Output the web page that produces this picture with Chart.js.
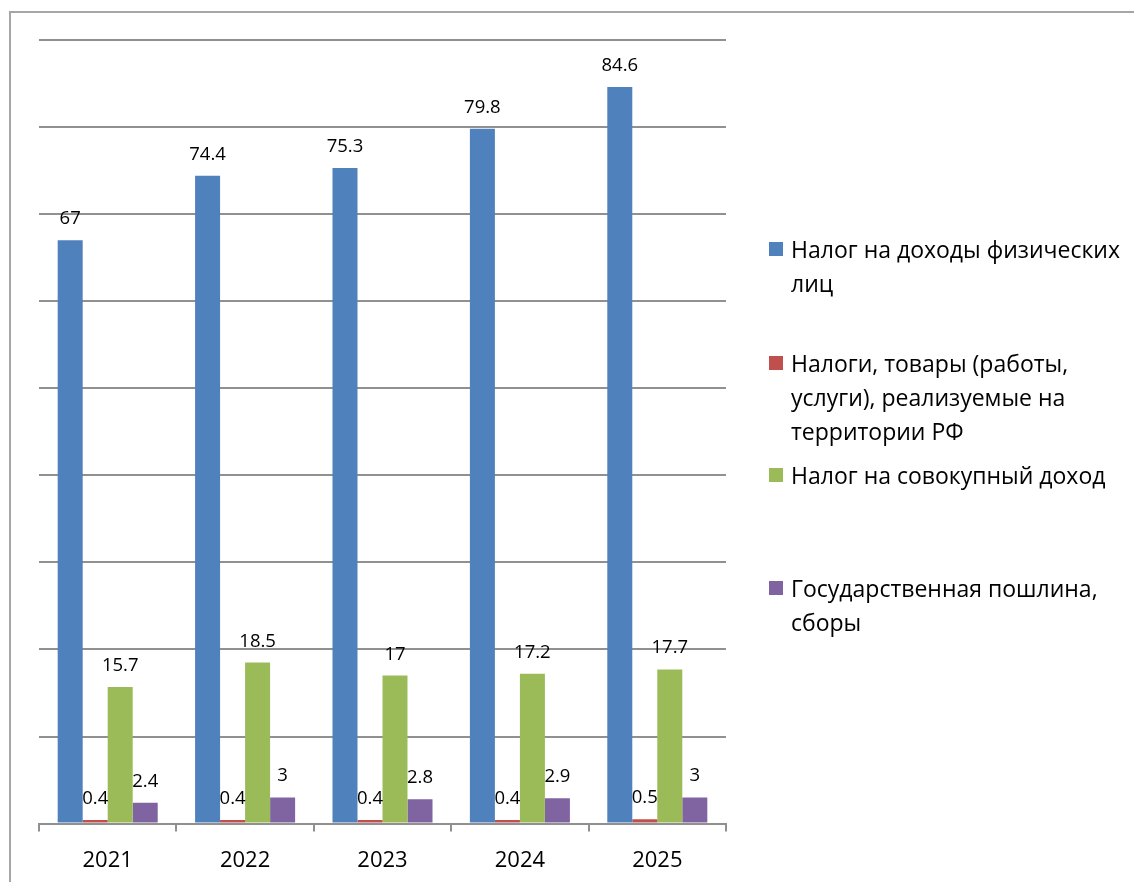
<!DOCTYPE html>
<html lang="ru">
<head>
<meta charset="utf-8">
<title>Налоговые доходы 2021-2025</title>
<script src="https://cdn.jsdelivr.net/npm/chart.js@4.4.1/dist/chart.umd.min.js"></script>
<style>
    body { margin: 0; background: #fff; overflow: hidden; font-family: "Open Sans", sans-serif; }
    .frame { position: absolute; left: 9px; top: 11px; width: 1200px; height: 1000px;
             border-left: 2px solid #a6a6a6; border-top: 2px solid #a6a6a6; }
    .chart-box { position: absolute; left: 0; top: 0; width: 1134px; height: 902px; }
    #legend { position: absolute; left: 769px; top: 232px; width: 365px; }
    .legend-item { position: absolute; left: 0; font-size: 23px; line-height: 34px; color: #000; }
    .legend-item .swatch { position: absolute; left: 0; top: 10px; width: 14px; height: 14px; }
    .legend-item .text { margin-left: 22px; white-space: nowrap; }
</style>
</head>
<body>
<div class="frame"></div>
<div class="chart-box"><canvas id="taxChart"></canvas></div>
<div id="legend"></div>

<script>
    // Data
    const years = ["2021", "2022", "2023", "2024", "2025"];
    const incomeTax = [67, 74.4, 75.3, 79.8, 84.6];
    const goodsTax = [0.4, 0.4, 0.4, 0.4, 0.5];
    const totalIncomeTax = [15.7, 18.5, 17, 17.2, 17.7];
    const stateDuty = [2.4, 3, 2.8, 2.9, 3];

    const seriesNames = [
        ["Налог на доходы физических", "лиц"],
        ["Налоги, товары (работы,", "услуги), реализуемые на", "территории РФ"],
        ["Налог на совокупный доход"],
        ["Государственная пошлина,", "сборы"]
    ];
    const seriesColors = ["#4f81bd", "#c0504d", "#9bbb59", "#8064a2"];
    const legendTops = [0, 114, 226, 339];

    // Value labels above bars
    const valueLabels = {
        id: "valueLabels",
        afterDatasetsDraw(chart) {
            const ctx = chart.ctx;
            ctx.save();
            ctx.font = "18.5px 'Open Sans'";
            ctx.fillStyle = "#000";
            ctx.textAlign = "center";
            ctx.textBaseline = "alphabetic";
            chart.data.datasets.forEach((ds, i) => {
                chart.getDatasetMeta(i).data.forEach((bar, j) => {
                    ctx.fillText(String(ds.data[j]), bar.x, bar.y - 16);
                });
            });
            ctx.restore();
        }
    };

    const allSeries = [incomeTax, goodsTax, totalIncomeTax, stateDuty];

    const chart = new Chart(document.getElementById("taxChart"), {
        type: "bar",
        data: {
            labels: years,
            datasets: allSeries.map((values, i) => ({
                label: seriesNames[i].join(" "),
                data: values,
                backgroundColor: seriesColors[i],
                barPercentage: 1,
                categoryPercentage: 0.728
            }))
        },
        options: {
            responsive: true,
            maintainAspectRatio: false,
            animation: false,
            layout: { padding: { left: 39, right: 408, top: 40, bottom: 12 } },
            plugins: {
                legend: { display: false },
                tooltip: { enabled: false }
            },
            scales: {
                x: {
                    grid: {
                        offset: true,
                        drawOnChartArea: false,
                        drawTicks: true,
                        tickLength: 8,
                        color: "#909090",
                        lineWidth: 2
                    },
                    border: { display: true, color: "#909090", width: 2 },
                    ticks: {
                        color: "#000",
                        padding: 16,
                        font: { family: "Open Sans", size: 22 }
                    }
                },
                y: {
                    min: 0,
                    max: 90,
                    ticks: { display: false, stepSize: 10 },
                    grid: { drawTicks: false, color: "#909090", lineWidth: 2 },
                    border: { display: false }
                }
            }
        },
        plugins: [valueLabels]
    });

    // HTML legend with the same line breaks as the original
    const legend = document.getElementById("legend");
    chart.data.datasets.forEach((ds, i) => {
        const item = document.createElement("div");
        item.className = "legend-item";
        item.style.top = legendTops[i] + "px";
        const sw = document.createElement("span");
        sw.className = "swatch";
        sw.style.background = ds.backgroundColor;
        const txt = document.createElement("div");
        txt.className = "text";
        txt.innerHTML = seriesNames[i].join("<br>");
        item.appendChild(sw);
        item.appendChild(txt);
        legend.appendChild(item);
    });
</script>
</body>
</html>
